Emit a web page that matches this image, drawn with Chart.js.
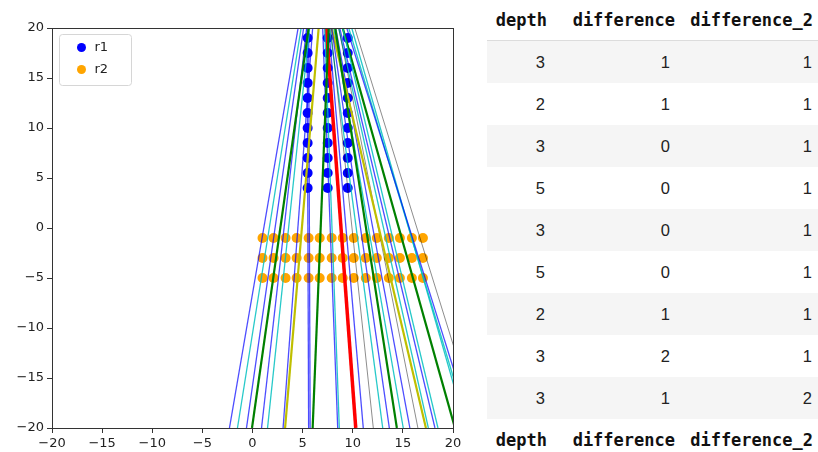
<!DOCTYPE html>
<html>
<head>
<meta charset="utf-8">
<script src="https://cdn.jsdelivr.net/npm/chart.js@4"></script>
<style>
  html, body { margin: 0; padding: 0; background: #fff; }
  body { width: 818px; height: 452px; position: relative; overflow: hidden; }
  #plot { position: absolute; left: 0; top: 0; width: 480px; height: 452px; }
  table.df { position: absolute; left: 487px; top: 0; border-collapse: collapse; table-layout: fixed; width: 331px; }
  table.df th, table.df td { text-align: right; padding: 0; white-space: nowrap; }
  table.df th { font-family: "DejaVu Sans Mono", monospace; font-weight: bold; font-size: 17px; color: #111; }
  table.df td { font-family: "Liberation Sans", Arial, sans-serif; font-size: 16.5px; color: #222; height: 42px; }
  table.df thead th { height: 40px; border-bottom: 1px solid #dcdcdc; }
  table.df tfoot th { height: 42px; }
  table.df tbody tr:nth-child(odd) { background: #f5f5f5; }
  table.df th:nth-child(1) { padding-right: 1px; }
  table.df th:nth-child(2) { padding-right: 1px; }
  table.df th:nth-child(3) { padding-right: 5px; }
  table.df td:nth-child(1) { padding-right: 3px; }
  table.df td:nth-child(2) { padding-right: 6px; }
  table.df td:nth-child(3) { padding-right: 6px; }
  .c1 { width: 61px; } .c2 { width: 128px; } .c3 { width: 142px; }
</style>
</head>
<body>
<div id="plot"><canvas id="lines" width="480" height="452"></canvas></div>
<table class="df" id="df">
  <colgroup><col class="c1"><col class="c2"><col class="c3"></colgroup>
  <thead></thead><tbody></tbody><tfoot></tfoot>
</table>
<script>
// scatter points
const r1X = [5.5, 7.5, 9.5];
const r1Y = [4, 5.5, 7, 8.5, 10, 11.5, 13, 14.5, 16, 17.5, 19];
const r2X = [1, 2.1, 3.3, 4.4, 5.6, 6.7, 7.9, 9, 10.1, 11.3, 12.4, 13.6, 14.7, 15.9, 17];
const r2Y = [-1, -3, -5];

// fitted lines: x where each line crosses y = 20 and y = -20, plus matplotlib colour code
const lineXTop    = [4.55, 4.85, 5.1, 5.6, 5.4, 5.7, 6.0, 6.6, 5.45, 5.6, 7.6, 7.0, 7.2, 7.36, 7.6, 7.8, 7.7, 7.9, 8.25, 7.9, 8.1, 8.3, 8.6, 8.6, 8.7, 9.0, 9.0, 9.4, 9.6, 9.9, 10.2];
const lineXBottom = [-2.3, -1.5, -0.6, -0.05, 0.9, 1.5, 3.05, 3.25, 5.6, 5.75, 6.0, 8.5, 8.66, 10.3, 11.05, 12.05, 12.99, 13.65, 14.4, 17.3, 15.04, 15.7, 16.5, 17.54, 18.2, 18.5, 20.2, 21.9, 21.55, 21.3, 22.6];
const lineCode    = ['b', 'c', 'b', 'g', 'b', 'c', 'b', 'y', 'b', 'b', 'g', 'b', 'c', 'r', 'b', 'k', 'c', 'b', 'g', 'y', 'c', 'b', 'k', 'c', 'b', 'c', 'g', 'b', 'c', 'c', 'k'];

// table on the right
const tableCols = ['depth', 'difference', 'difference_2'];
const depth = [3, 2, 3, 5, 3, 5, 2, 3, 3];
const difference = [1, 1, 0, 0, 0, 0, 1, 2, 1];
const difference2 = [1, 1, 1, 1, 1, 1, 1, 1, 2];

const AXIS_MIN = -20, AXIS_MAX = 20;

const lineStyle = {
  b: { color: 'rgba(0,0,255,0.7)', width: 1.3 },
  c: { color: 'rgba(0,191,191,0.85)', width: 1.3 },
  g: { color: '#008000', width: 2.2 },
  y: { color: '#bfbf00', width: 2.2 },
  r: { color: '#ff0000', width: 3.5 },
  k: { color: 'rgba(0,0,0,0.45)', width: 1 }
};

const datasets = lineXTop.map((xt, i) => {
  const st = lineStyle[lineCode[i]];
  return {
    data: [{ x: xt, y: AXIS_MAX }, { x: lineXBottom[i], y: AXIS_MIN }],
    showLine: true,
    borderColor: st.color,
    borderWidth: st.width,
    pointRadius: 0,
    clip: 0
  };
});

const r1Points = [];
r1X.forEach(x => r1Y.forEach(y => r1Points.push({ x, y })));
const r2Points = [];
r2Y.forEach(y => r2X.forEach(x => r2Points.push({ x, y })));

datasets.push({ label: 'r1', data: r1Points, backgroundColor: '#0000ff', borderWidth: 0, pointRadius: 5, clip: 0 });
datasets.push({ label: 'r2', data: r2Points, backgroundColor: '#ffa500', borderWidth: 0, pointRadius: 5, clip: 0 });

const fmt = v => (v < 0 ? '\u2212' + Math.abs(v) : String(v));

// frame on all four sides + legend inside the axes
const framePlugin = {
  id: 'frame',
  afterDraw(chart) {
    const { ctx, chartArea: a } = chart;
    ctx.save();
    ctx.strokeStyle = '#333';
    ctx.lineWidth = 1;
    ctx.strokeRect(Math.round(a.left) + 0.5, Math.round(a.top) + 0.5, Math.round(a.right - a.left), Math.round(a.bottom - a.top));

    // legend
    const items = chart.data.datasets.filter(d => d.label);
    const bx = a.left + 7.5, by = a.top + 6.5, bw = 72, bh = 51;
    ctx.beginPath();
    ctx.roundRect(bx, by, bw, bh, 3);
    ctx.fillStyle = 'rgba(255,255,255,0.8)';
    ctx.fill();
    ctx.strokeStyle = '#d6d6d6';
    ctx.stroke();
    ctx.font = '13px "DejaVu Sans"';
    ctx.textBaseline = 'middle';
    items.forEach((d, i) => {
      const cy = by + 13 + i * 22;
      ctx.beginPath();
      ctx.arc(bx + 22, cy, 4.5, 0, Math.PI * 2);
      ctx.fillStyle = d.backgroundColor;
      ctx.fill();
      ctx.fillStyle = '#222';
      ctx.fillText(d.label, bx + 35, cy);
    });
    ctx.restore();
  }
};

const axisOpts = (fit) => ({
  type: 'linear',
  min: AXIS_MIN,
  max: AXIS_MAX,
  ticks: { stepSize: 5, color: '#222', font: { family: 'DejaVu Sans', size: 13 }, callback: fmt, padding: 3 },
  grid: { drawOnChartArea: false, drawTicks: true, tickLength: 5, color: '#333' },
  border: { display: false },
  afterFit: fit
});

new Chart(document.getElementById('lines'), {
  type: 'scatter',
  data: { datasets },
  options: {
    responsive: false,
    animation: false,
    layout: { padding: { top: 28, right: 27, bottom: 0, left: 0 } },
    plugins: { legend: { display: false }, tooltip: { enabled: false } },
    scales: {
      x: axisOpts(s => { s.height = 24; }),
      y: axisOpts(s => { s.width = 52; })
    }
  },
  plugins: [framePlugin]
});

// build table
const tbl = document.getElementById('df');
const headRow = () => '<tr>' + tableCols.map(c => '<th>' + c + '</th>').join('') + '</tr>';
tbl.tHead.innerHTML = headRow();
tbl.tFoot.innerHTML = headRow();
tbl.tBodies[0].innerHTML = depth.map((d, i) =>
  '<tr><td>' + d + '</td><td>' + difference[i] + '</td><td>' + difference2[i] + '</td></tr>').join('');
</script>
</body>
</html>
